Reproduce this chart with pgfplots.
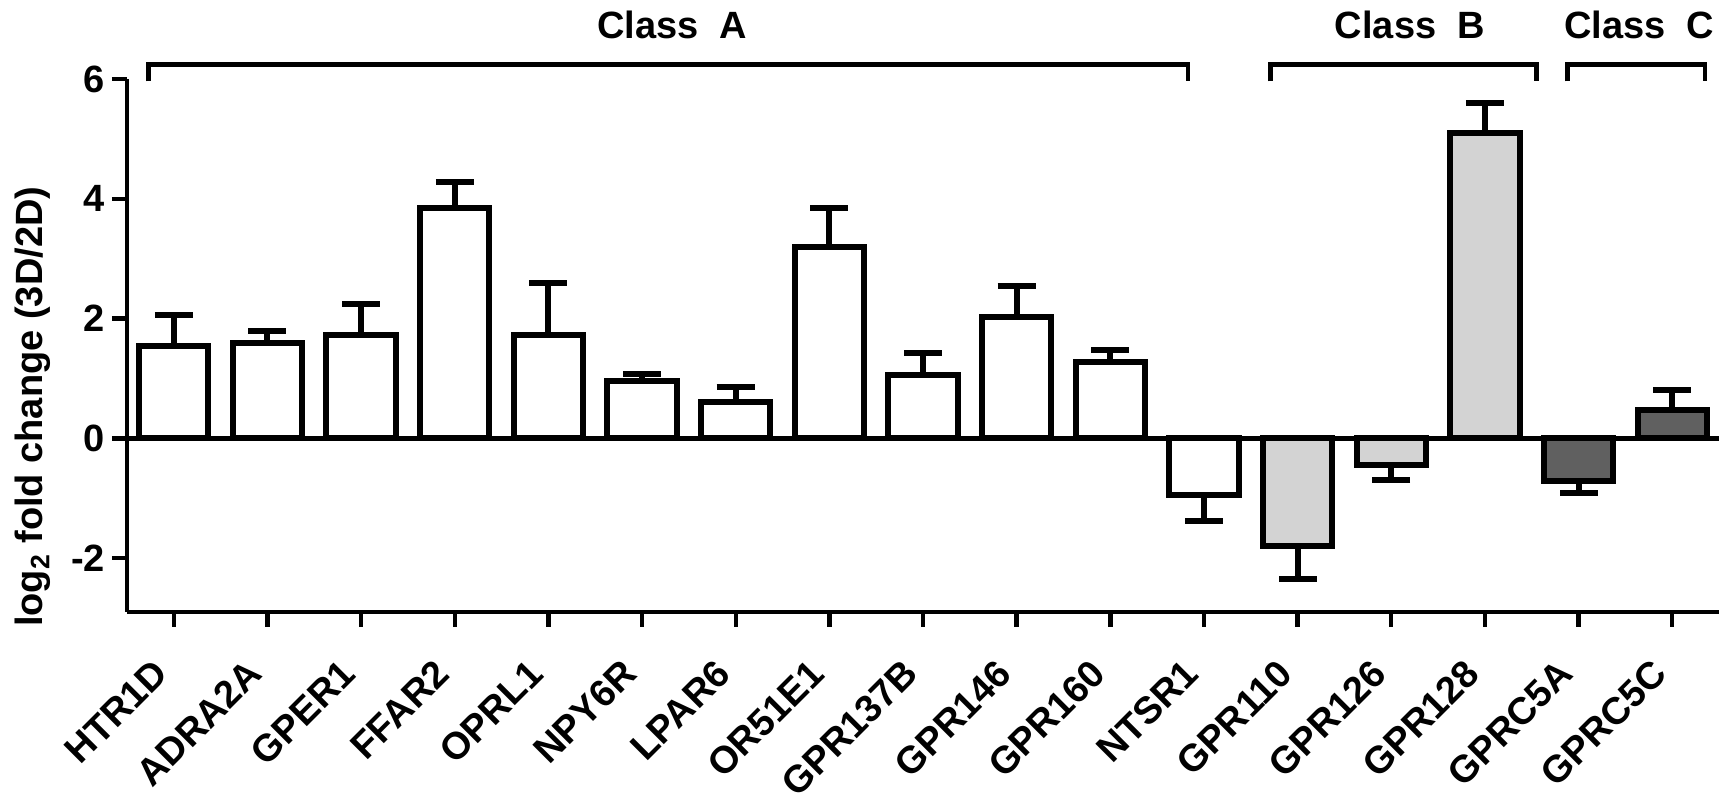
\documentclass[border=0pt]{standalone}
\usepackage{fontspec}
\setmainfont{Liberation Sans}
\usepackage{pgfplots}
\pgfplotsset{compat=1.18}
\definecolor{lightg}{RGB}{211,211,211}
\definecolor{darkg}{RGB}{96,96,96}
\begin{document}
\begin{tikzpicture}
\useasboundingbox (-63.5pt,-97.5pt) rectangle (801.5pt,306pt);
\begin{axis}[
  at={(0pt,0pt)}, anchor=south west, scale only axis,
  width=796pt, height=266.5pt,
  xmin=-0.5, xmax=16.5, ymin=-2.9, ymax=6,
  axis lines*=left, axis line style={line width=2.2pt},
  clip=false,
  xtick={0,...,16},
  xticklabels={HTR1D,ADRA2A,GPER1,FFAR2,OPRL1,NPY6R,LPAR6,OR51E1,GPR137B,GPR146,GPR160,NTSR1,GPR110,GPR126,GPR128,GPRC5A,GPRC5C},
  ytick={-2,0,2,4,6}, yticklabels={-2,0,2,4,6},
  tick align=outside, major tick length=7.5pt,
  tick style={line width=2.2pt, black},
  tick label style={font=\fontsize{19}{22}\selectfont\bfseries},
  xticklabel style={xshift=-11pt, yshift=-15pt, rotate=45, anchor=north east, inner sep=0pt},
  ylabel={log\textsubscript{2} fold change (3D/2D)},
  ylabel style={font=\fontsize{19}{22}\selectfont\bfseries, at={(axis description cs:-0.059,0.385)}, anchor=center},
  bar width=0.74,
]
% white bars (Class A)
\addplot[ybar, bar width=0.74, fill=white, draw=black, line width=3pt] coordinates {
 (0,1.54) (1,1.60) (2,1.72) (3,3.85) (4,1.72) (5,0.95) (6,0.60) (7,3.20) (8,1.05) (9,2.02) (10,1.27) (11,-0.95)};
% light grey bars (Class B)
\addplot[ybar, bar width=0.74, fill=lightg, draw=black, line width=3pt] coordinates {
 (12,-1.80) (13,-0.45) (14,5.10)};
% dark grey bars (Class C)
\addplot[ybar, bar width=0.74, fill=darkg, draw=black, line width=3pt] coordinates {
 (15,-0.72) (16,0.47)};
% positive error bars
\addplot[draw=none, mark=none, forget plot,
  error bars/.cd, y dir=plus, y explicit, error mark=|,
  error bar style={draw=black, line width=3pt},
  error mark options={draw=black, line width=3pt, mark size=9.5pt}]
 coordinates {
 (0,1.54) +- (0,0.52)
 (1,1.60) +- (0,0.20)
 (2,1.72) +- (0,0.53)
 (3,3.85) +- (0,0.43)
 (4,1.72) +- (0,0.88)
 (5,0.95) +- (0,0.12)
 (6,0.60) +- (0,0.25)
 (7,3.20) +- (0,0.65)
 (8,1.05) +- (0,0.38)
 (9,2.02) +- (0,0.53)
 (10,1.27) +- (0,0.21)
 (14,5.10) +- (0,0.50)
 (16,0.47) +- (0,0.33)};
% negative error bars
\addplot[draw=none, mark=none, forget plot,
  error bars/.cd, y dir=minus, y explicit, error mark=|,
  error bar style={draw=black, line width=3pt},
  error mark options={draw=black, line width=3pt, mark size=9.5pt}]
 coordinates {
 (11,-0.95) +- (0,0.43)
 (12,-1.80) +- (0,0.55)
 (13,-0.45) +- (0,0.25)
 (15,-0.72) +- (0,0.20)};
% zero line
\addplot[black, line width=2.2pt, mark=none] coordinates {(-0.5,0) (16.5,0)};
% class brackets
\draw[line width=2.2pt] (axis cs:-0.27,5.96) -- (axis cs:-0.27,6.24) -- (axis cs:10.83,6.24) -- (axis cs:10.83,5.96);
\draw[line width=2.2pt] (axis cs:11.71,5.96) -- (axis cs:11.71,6.24) -- (axis cs:14.55,6.24) -- (axis cs:14.55,5.96);
\draw[line width=2.2pt] (axis cs:14.88,5.96) -- (axis cs:14.88,6.24) -- (axis cs:16.35,6.24) -- (axis cs:16.35,5.96);
\node[font=\fontsize{19}{22}\selectfont\bfseries] at (axis cs:5.32,6.9) {Class~~A};
\node[font=\fontsize{19}{22}\selectfont\bfseries] at (axis cs:13.2,6.9) {Class~~B};
\node[font=\fontsize{19}{22}\selectfont\bfseries] at (axis cs:15.65,6.9) {Class~~C};
\end{axis}
\end{tikzpicture}
\end{document}
